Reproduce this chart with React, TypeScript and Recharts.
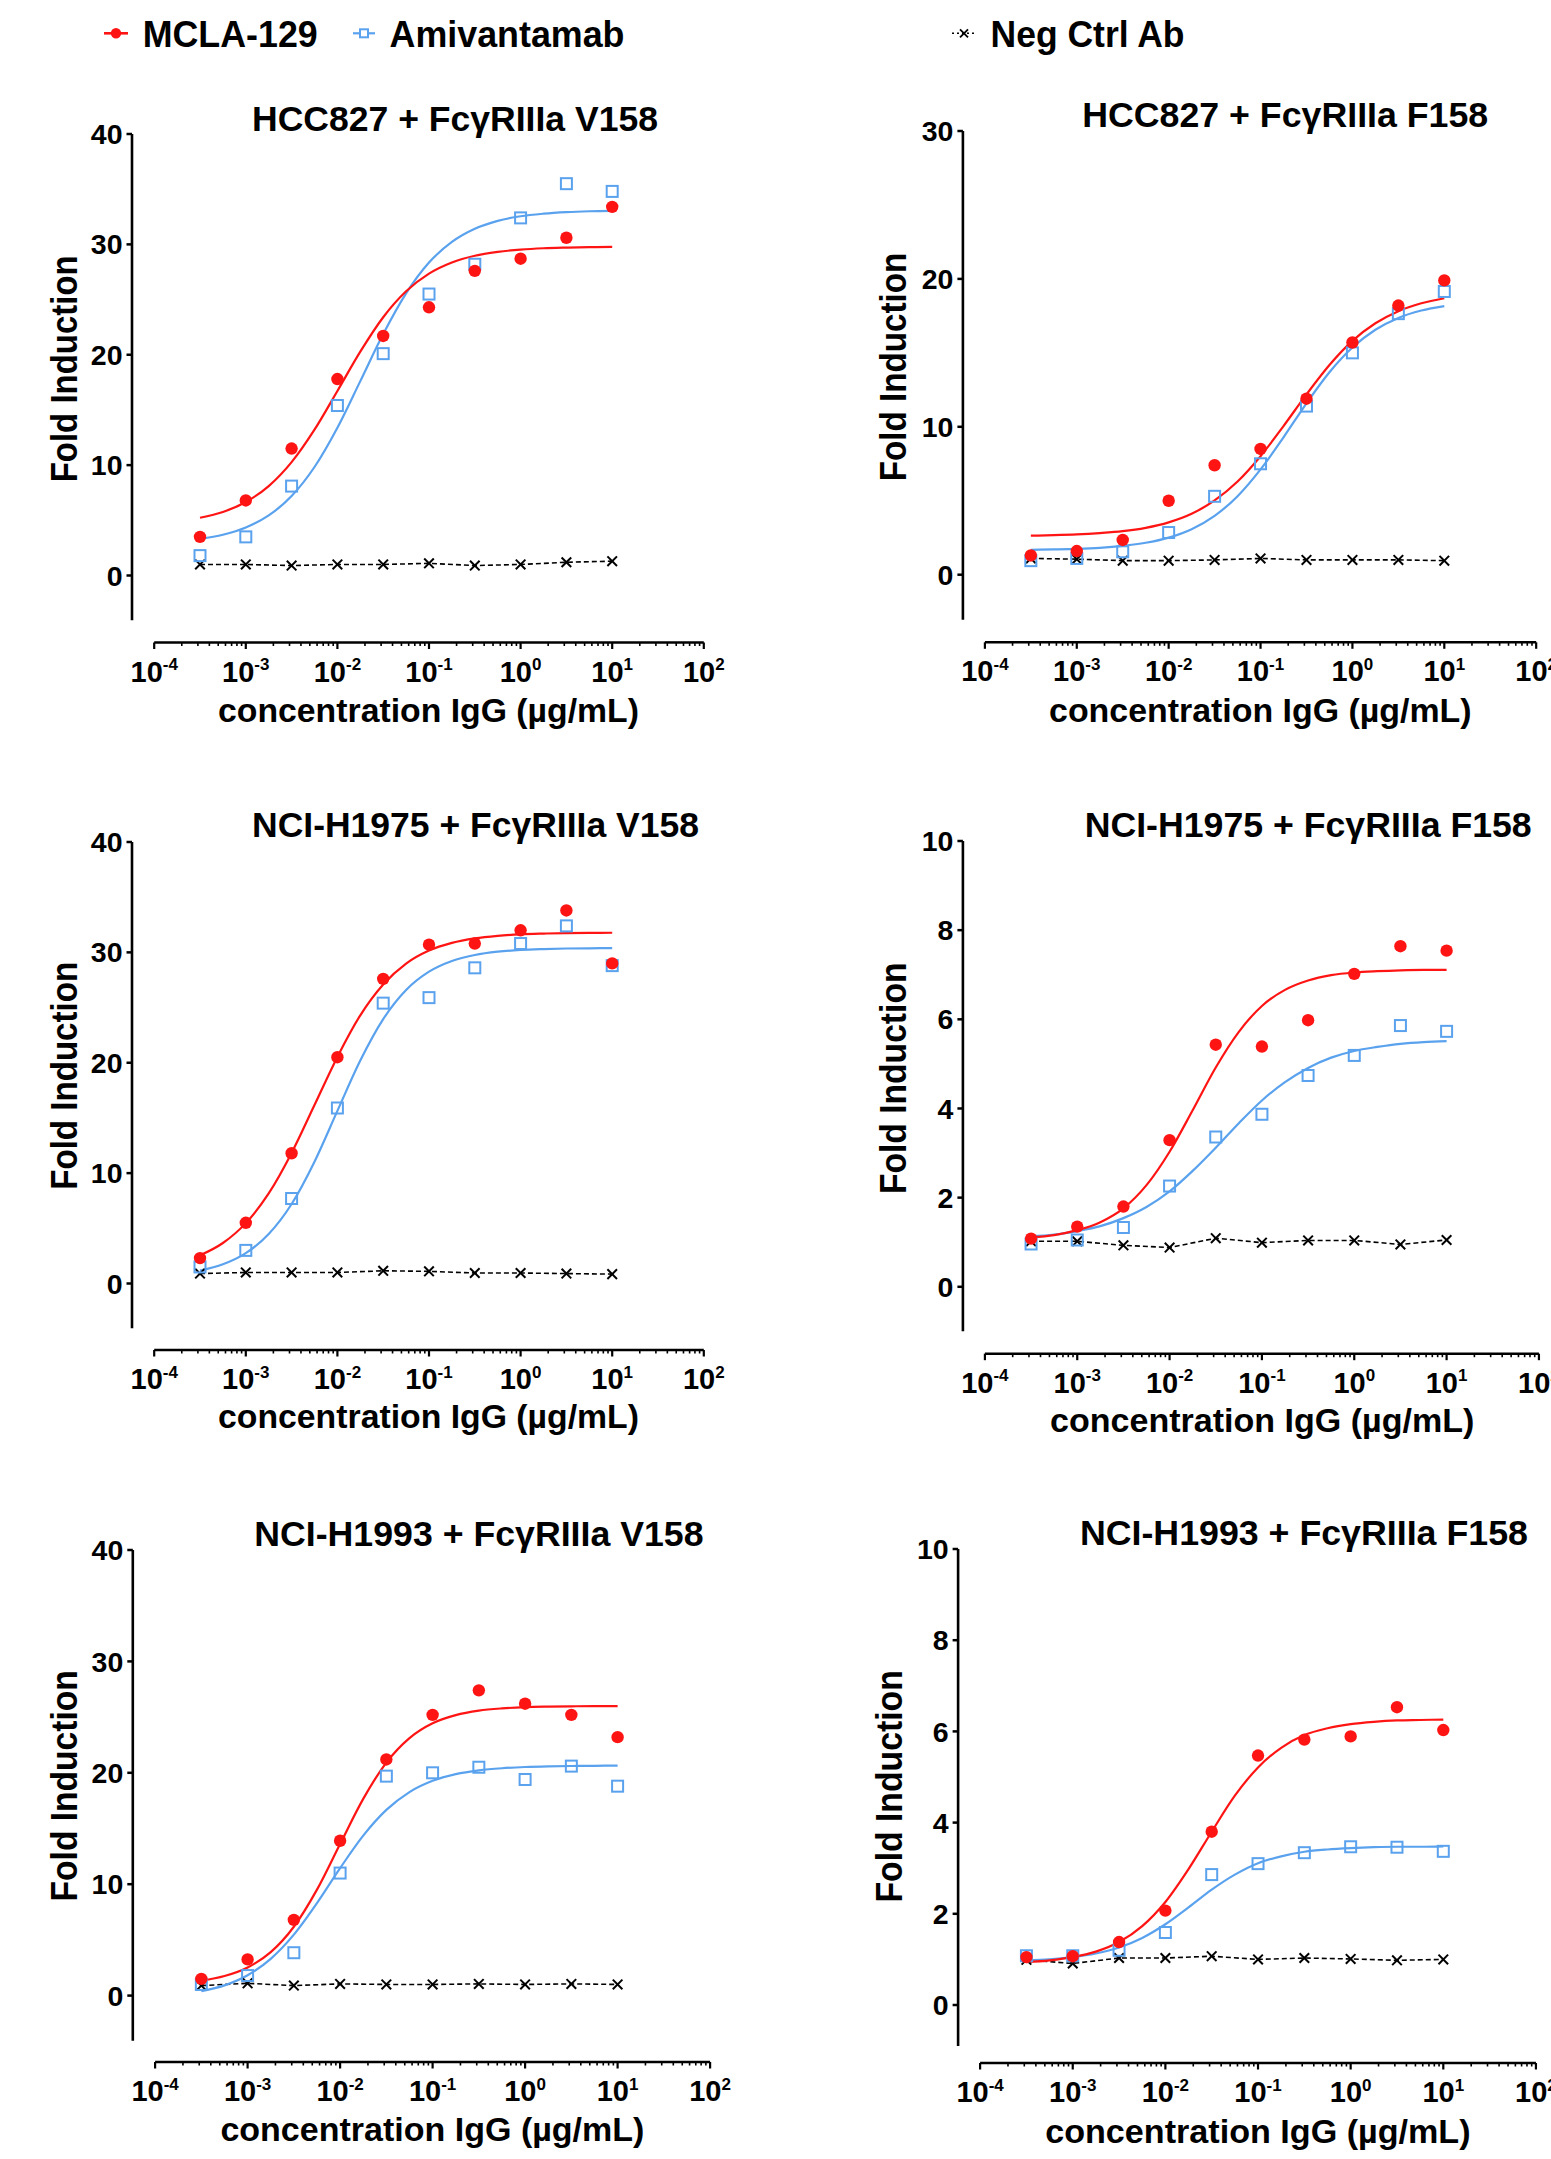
import React from "react";
import { ComposedChart, Line, Scatter, XAxis, YAxis, ReferenceLine } from "recharts";

const FONT = '"Liberation Sans", Arial, Helvetica, sans-serif';
const RED = "#ff1414";
const BLUE = "#5aa2ee";
const BLACK = "#000";

// x positions = log10(concentration IgG, µg/mL)
const doseLog = [-3.5, -3, -2.5, -2, -1.5, -1, -0.5, 0, 0.5, 1];
const fitLog = [-3.5, -3.25, -3, -2.75, -2.5, -2.25, -2, -1.75, -1.5, -1.25, -1, -0.75, -0.5, -0.25, 0, 0.25, 0.5, 0.75, 1];

// axis ticks
const xMajorTicks = [-4, -3, -2, -1, 0, 1, 2];
const xMinorSteps = [2, 3, 4, 5, 6, 7, 8, 9];
const yTicks40 = [0, 10, 20, 30, 40];
const yTicks30 = [0, 10, 20, 30];
const yTicks10 = [0, 2, 4, 6, 8, 10];

// HCC827 + FcγRIIIa V158
const hccV_mcla = [3.5, 6.8, 11.5, 17.8, 21.7, 24.3, 27.6, 28.7, 30.6, 33.4];
const hccV_ami = [1.8, 3.5, 8.1, 15.4, 20.1, 25.5, 28.2, 32.4, 35.5, 34.8];
const hccV_neg = [1.0, 1.0, 0.9, 1.0, 1.0, 1.1, 0.9, 1.0, 1.2, 1.3];
const hccV_mclaFit = [5.23, 5.76, 6.66, 8.1, 10.27, 13.21, 16.72, 20.28, 23.4, 25.75, 27.35, 28.36, 28.97, 29.32, 29.53, 29.65, 29.71, 29.75, 29.77];
const hccV_amiFit = [3.31, 3.69, 4.35, 5.44, 7.2, 9.83, 13.39, 17.61, 21.87, 25.56, 28.35, 30.22, 31.41, 32.13, 32.55, 32.78, 32.92, 33.0, 33.04];

// HCC827 + FcγRIIIa F158
const hccF_mcla = [1.3, 1.6, 2.35, 5.0, 7.4, 8.5, 11.9, 15.7, 18.2, 19.9];
const hccF_ami = [0.95, 1.1, 1.55, 2.85, 5.3, 7.5, 11.4, 15.0, 17.65, 19.15];
const hccF_neg = [1.1, 1.05, 0.95, 0.95, 1.0, 1.1, 1.0, 1.0, 1.0, 0.95];
const hccF_mclaFit = [2.64, 2.67, 2.72, 2.81, 2.94, 3.17, 3.54, 4.12, 5.02, 6.3, 8.01, 10.05, 12.19, 14.18, 15.81, 17.0, 17.82, 18.35, 18.69];
const hccF_amiFit = [1.68, 1.71, 1.75, 1.82, 1.95, 2.16, 2.51, 3.08, 3.98, 5.31, 7.12, 9.29, 11.59, 13.69, 15.36, 16.56, 17.36, 17.86, 18.16];

// NCI-H1975 + FcγRIIIa V158
const h1975V_mcla = [2.3, 5.5, 11.8, 20.5, 27.6, 30.7, 30.8, 32.0, 33.8, 29.0];
const h1975V_ami = [1.5, 3.0, 7.7, 15.9, 25.4, 25.9, 28.6, 30.8, 32.4, 28.8];
const h1975V_neg = [0.9, 1.0, 1.0, 1.0, 1.15, 1.1, 0.95, 0.95, 0.9, 0.85];
const h1975V_mclaFit = [2.55, 3.67, 5.47, 8.16, 11.83, 16.17, 20.53, 24.3, 27.09, 28.98, 30.16, 30.86, 31.27, 31.5, 31.63, 31.7, 31.75, 31.77, 31.78];
const h1975V_amiFit = [1.17, 1.74, 2.75, 4.48, 7.2, 11.04, 15.64, 20.2, 23.95, 26.59, 28.25, 29.22, 29.76, 30.06, 30.22, 30.3, 30.35, 30.37, 30.39];

// NCI-H1975 + FcγRIIIa F158
const h1975F_mcla = [1.08, 1.35, 1.8, 3.29, 5.43, 5.39, 5.98, 7.02, 7.64, 7.54];
const h1975F_ami = [0.96, 1.05, 1.33, 2.26, 3.36, 3.87, 4.74, 5.19, 5.86, 5.73];
const h1975F_neg = [1.02, 1.02, 0.93, 0.88, 1.09, 0.99, 1.04, 1.04, 0.95, 1.05];
const h1975F_mclaFit = [1.11, 1.16, 1.27, 1.45, 1.76, 2.28, 3.03, 3.96, 4.92, 5.72, 6.3, 6.66, 6.87, 6.99, 7.05, 7.08, 7.1, 7.11, 7.11];
const h1975F_amiFit = [1.13, 1.17, 1.25, 1.36, 1.54, 1.79, 2.14, 2.6, 3.12, 3.67, 4.18, 4.59, 4.91, 5.14, 5.29, 5.38, 5.45, 5.49, 5.51];

// NCI-H1993 + FcγRIIIa V158
const h1993V_mcla = [1.5, 3.25, 6.8, 13.9, 21.2, 25.2, 27.4, 26.2, 25.2, 23.2];
const h1993V_ami = [1.0, 1.8, 3.85, 11.0, 19.7, 20.0, 20.5, 19.4, 20.6, 18.8];
const h1993V_neg = [0.9, 1.1, 0.9, 1.05, 1.0, 1.0, 1.05, 1.0, 1.05, 1.0];
const h1993V_mclaFit = [1.34, 1.76, 2.53, 3.9, 6.18, 9.51, 13.61, 17.66, 20.92, 23.12, 24.45, 25.18, 25.58, 25.78, 25.89, 25.94, 25.97, 25.99, 25.99];
const h1993V_amiFit = [0.39, 0.92, 1.83, 3.3, 5.47, 8.3, 11.44, 14.36, 16.67, 18.27, 19.28, 19.88, 20.22, 20.41, 20.52, 20.58, 20.61, 20.63, 20.64];

// NCI-H1993 + FcγRIIIa F158
const h1993F_mcla = [1.05, 1.07, 1.38, 2.07, 3.8, 5.47, 5.82, 5.89, 6.53, 6.03];
const h1993F_ami = [1.08, 1.08, 1.2, 1.59, 2.86, 3.1, 3.34, 3.47, 3.46, 3.37];
const h1993F_neg = [0.99, 0.91, 1.03, 1.03, 1.07, 1.0, 1.03, 1.01, 0.98, 1.0];
const h1993F_mclaFit = [0.94, 0.98, 1.05, 1.17, 1.38, 1.73, 2.26, 2.98, 3.8, 4.59, 5.21, 5.64, 5.92, 6.07, 6.16, 6.21, 6.24, 6.25, 6.26];
const h1993F_amiFit = [0.98, 1.0, 1.05, 1.13, 1.26, 1.47, 1.77, 2.14, 2.53, 2.86, 3.11, 3.26, 3.36, 3.41, 3.44, 3.46, 3.47, 3.47, 3.48];

const xMinorTicks = xMajorTicks.slice(0, -1).flatMap((d) => xMinorSteps.map((m) => d + Math.log10(m)));
const xAllTicks = [...xMajorTicks, ...xMinorTicks];

const Y_AXIS_W = 80;

interface PanelCfg {
  title: string;
  mcla: number[];
  ami: number[];
  neg: number[];
  mclaFit: number[];
  amiFit: number[];
  yTicks: number[];
  yMax: number;
  yAxisBottom: number;
  // layout (page pixels)
  chartLeft: number;
  chartWidth: number;
  yAxisX: number;
  axisStartX: number;
  decade: number;
  topY: number;
  zeroY: number;
  xAxisY: number;
  titleX: number;
  titleY: number;
  titleW: number;
  xLabelX: number;
  xLabelY: number;
  xLabelW: number;
  yLabelX: number;
  yLabelY: number;
  yLabelW: number;
}

const panels: PanelCfg[] = [
  {
    title: "HCC827 + FcγRIIIa V158",
    mcla: hccV_mcla, ami: hccV_ami, neg: hccV_neg, mclaFit: hccV_mclaFit, amiFit: hccV_amiFit,
    yTicks: yTicks40, yMax: 40, yAxisBottom: -4.05,
    chartLeft: 0, chartWidth: 760, yAxisX: 132, axisStartX: 154.2, decade: 91.6,
    topY: 133.5, zeroY: 575, xAxisY: 642,
    titleX: 455, titleY: 130.5, titleW: 406,
    xLabelX: 428.5, xLabelY: 721.5, xLabelW: 421,
    yLabelX: 76.6, yLabelY: 368.8, yLabelW: 227,
  },
  {
    title: "HCC827 + FcγRIIIa F158",
    mcla: hccF_mcla, ami: hccF_ami, neg: hccF_neg, mclaFit: hccF_mclaFit, amiFit: hccF_amiFit,
    yTicks: yTicks30, yMax: 30, yAxisBottom: -3.05,
    chartLeft: 800, chartWidth: 751, yAxisX: 962.9, axisStartX: 984.9, decade: 91.88,
    topY: 130.7, zeroY: 574.4, xAxisY: 642,
    titleX: 1285.2, titleY: 126.8, titleW: 406,
    xLabelX: 1260.3, xLabelY: 721.5, xLabelW: 422.5,
    yLabelX: 906.3, yLabelY: 366.9, yLabelW: 228.6,
  },
  {
    title: "NCI-H1975 + FcγRIIIa V158",
    mcla: h1975V_mcla, ami: h1975V_ami, neg: h1975V_neg, mclaFit: h1975V_mclaFit, amiFit: h1975V_amiFit,
    yTicks: yTicks40, yMax: 40, yAxisBottom: -4.05,
    chartLeft: 0, chartWidth: 760, yAxisX: 132, axisStartX: 154.2, decade: 91.6,
    topY: 841.8, zeroY: 1283.3, xAxisY: 1349.8,
    titleX: 475.5, titleY: 837.3, titleW: 447,
    xLabelX: 428.5, xLabelY: 1428, xLabelW: 421,
    yLabelX: 76.6, yLabelY: 1075.8, yLabelW: 228,
  },
  {
    title: "NCI-H1975 + FcγRIIIa F158",
    mcla: h1975F_mcla, ami: h1975F_ami, neg: h1975F_neg, mclaFit: h1975F_mclaFit, amiFit: h1975F_amiFit,
    yTicks: yTicks10, yMax: 10, yAxisBottom: -1,
    chartLeft: 800, chartWidth: 751, yAxisX: 962.9, axisStartX: 984.9, decade: 92.34,
    topY: 841.3, zeroY: 1287.1, xAxisY: 1354,
    titleX: 1308.2, titleY: 837.3, titleW: 447,
    xLabelX: 1262.2, xLabelY: 1432, xLabelW: 424.4,
    yLabelX: 906.3, yLabelY: 1078.3, yLabelW: 231.5,
  },
  {
    title: "NCI-H1993 + FcγRIIIa V158",
    mcla: h1993V_mcla, ami: h1993V_ami, neg: h1993V_neg, mclaFit: h1993V_mclaFit, amiFit: h1993V_amiFit,
    yTicks: yTicks40, yMax: 40, yAxisBottom: -4.05,
    chartLeft: 0, chartWidth: 760, yAxisX: 132.8, axisStartX: 155.1, decade: 92.5,
    topY: 1550.4, zeroY: 1996, xAxisY: 2062.4,
    titleX: 478.9, titleY: 1546.3, titleW: 449.3,
    xLabelX: 432.4, xLabelY: 2141.2, xLabelW: 424,
    yLabelX: 76.6, yLabelY: 1785.8, yLabelW: 231.2,
  },
  {
    title: "NCI-H1993 + FcγRIIIa F158",
    mcla: h1993F_mcla, ami: h1993F_ami, neg: h1993F_neg, mclaFit: h1993F_mclaFit, amiFit: h1993F_amiFit,
    yTicks: yTicks10, yMax: 10, yAxisBottom: -0.9,
    chartLeft: 800, chartWidth: 751, yAxisX: 958.1, axisStartX: 980.1, decade: 92.64,
    topY: 1549.2, zeroY: 2005.2, xAxisY: 2063.2,
    titleX: 1303.9, titleY: 1545.2, titleW: 448,
    xLabelX: 1257.9, xLabelY: 2143.2, xLabelW: 425.4,
    yLabelX: 901.5, yLabelY: 1786.4, yLabelW: 232.4,
  },
];

const toPts = (xs: number[], ys: number[]) => xs.map((x, i) => ({ x, y: ys[i] }));

// markers
const RedDot = (p: any) => <circle cx={p.cx} cy={p.cy} r={6.2} fill={RED} />;
const BlueSquare = (p: any) => (
  <rect x={p.cx - 5.5} y={p.cy - 5.5} width={11} height={11} fill="none" stroke={BLUE} strokeWidth={2} />
);
const Cross = (p: any) => {
  const { cx, cy, index } = p;
  if (cx == null || cy == null) return <g key={index} />;
  const s = 4.8;
  return (
    <g key={index}>
      <line x1={cx - s} y1={cy - s} x2={cx + s} y2={cy + s} stroke={BLACK} strokeWidth={2} />
      <line x1={cx - s} y1={cy + s} x2={cx + s} y2={cy - s} stroke={BLACK} strokeWidth={2} />
    </g>
  );
};

// x axis tick: major ticks get 10^n labels, minor ticks are short
const XTick = (props: any) => {
  const { x, y, payload } = props;
  const v = payload.value;
  const major = Math.abs(v - Math.round(v)) < 1e-6;
  return (
    <g>
      <line x1={x} x2={x} y1={y} y2={y + (major ? 6.5 : 3.5)} stroke={BLACK} strokeWidth={major ? 2.2 : 1.6} />
      {major && (
        <text x={x} y={y + 39} textAnchor="middle" fontFamily={FONT} fontWeight={700} fontSize={29} fill={BLACK}>
          10
          <tspan dy={-11.5} fontSize={17}>
            {Math.round(v)}
          </tspan>
        </text>
      )}
    </g>
  );
};

const Panel = ({ cfg }: { cfg: PanelCfg }) => {
  const pxPerUnit = (cfg.zeroY - cfg.topY) / cfg.yMax;
  const yMin = -(cfg.xAxisY - cfg.zeroY) / pxPerUnit;
  const xMin = -4 - (cfg.axisStartX - cfg.yAxisX) / cfg.decade;
  const plotRight = cfg.axisStartX + 6 * cfg.decade;
  const chartTop = cfg.topY - 20;
  const height = cfg.xAxisY - chartTop + 65;
  const margin = {
    top: 20,
    right: cfg.chartLeft + cfg.chartWidth - plotRight,
    bottom: 5,
    left: cfg.yAxisX - cfg.chartLeft - Y_AXIS_W,
  };

  return (
    <div style={{ position: "absolute", left: cfg.chartLeft, top: chartTop }}>
      <ComposedChart width={cfg.chartWidth} height={height} margin={margin}>
        <XAxis
          type="number"
          dataKey="x"
          domain={[xMin, 2]}
          allowDataOverflow
          ticks={xAllTicks}
          interval={0}
          tick={(p: any) => <XTick {...p} />}
          tickLine={false}
          axisLine={false}
          tickSize={0}
          tickMargin={0}
          height={60}
        />
        <YAxis
          type="number"
          dataKey="y"
          domain={[yMin, cfg.yMax]}
          allowDataOverflow
          ticks={cfg.yTicks}
          interval={0}
          axisLine={false}
          tickLine={{ stroke: BLACK, strokeWidth: 2.5 }}
          tickSize={5.5}
          tickMargin={4}
          width={Y_AXIS_W}
          tick={{ fill: BLACK, fontSize: 28.5, fontWeight: 700, fontFamily: FONT }}
        />
        {/* offset axes, Prism style */}
        <ReferenceLine
          segment={[{ x: xMin, y: cfg.yAxisBottom }, { x: xMin, y: cfg.yMax }]}
          stroke={BLACK}
          strokeWidth={2.6}
          ifOverflow="visible"
        />
        <ReferenceLine
          segment={[{ x: -4, y: yMin }, { x: 2, y: yMin }]}
          stroke={BLACK}
          strokeWidth={2.6}
          ifOverflow="visible"
        />
        <Line
          data={toPts(doseLog, cfg.neg)}
          dataKey="y"
          type="linear"
          stroke={BLACK}
          strokeWidth={1.6}
          strokeDasharray="5 3"
          dot={Cross}
          activeDot={false}
          isAnimationActive={false}
        />
        <Line
          data={toPts(fitLog, cfg.amiFit)}
          dataKey="y"
          type="monotone"
          stroke={BLUE}
          strokeWidth={2.2}
          dot={false}
          activeDot={false}
          isAnimationActive={false}
        />
        <Line
          data={toPts(fitLog, cfg.mclaFit)}
          dataKey="y"
          type="monotone"
          stroke={RED}
          strokeWidth={2.2}
          dot={false}
          activeDot={false}
          isAnimationActive={false}
        />
        <Scatter data={toPts(doseLog, cfg.ami)} dataKey="y" shape={BlueSquare} isAnimationActive={false} />
        <Scatter data={toPts(doseLog, cfg.mcla)} dataKey="y" shape={RedDot} isAnimationActive={false} />
      </ComposedChart>
    </div>
  );
};

// titles, axis titles and the shared legend
const Overlay = () => {
  const txt = { fontFamily: FONT, fontWeight: 700, fill: BLACK } as const;
  return (
    <svg
      width={1551}
      height={2159}
      style={{ position: "absolute", left: 0, top: 0, pointerEvents: "none" }}
    >
      {/* legend */}
      <line x1={104} x2={128} y1={33.3} y2={33.3} stroke={RED} strokeWidth={2.6} />
      <circle cx={116} cy={33.3} r={5.2} fill={RED} />
      <text x={142.7} y={46.7} fontSize={36} textLength={175} lengthAdjust="spacingAndGlyphs" {...txt}>
        MCLA-129
      </text>
      <line x1={353} x2={375} y1={33.3} y2={33.3} stroke={BLUE} strokeWidth={2.2} />
      <rect x={360} y={29.3} width={8} height={8} fill="#fff" stroke={BLUE} strokeWidth={2} />
      <text x={389.5} y={46.7} fontSize={36} textLength={235} lengthAdjust="spacingAndGlyphs" {...txt}>
        Amivantamab
      </text>
      <line x1={952} x2={976} y1={33.3} y2={33.3} stroke={BLACK} strokeWidth={1.5} strokeDasharray="2 3" />
      <line x1={960} y1={29.3} x2={968} y2={37.3} stroke={BLACK} strokeWidth={1.8} />
      <line x1={960} y1={37.3} x2={968} y2={29.3} stroke={BLACK} strokeWidth={1.8} />
      <text x={990.5} y={46.7} fontSize={36} textLength={194} lengthAdjust="spacingAndGlyphs" {...txt}>
        Neg Ctrl Ab
      </text>

      {panels.map((p) => (
        <g key={p.title}>
          <text
            x={p.titleX}
            y={p.titleY}
            textAnchor="middle"
            fontSize={35.5}
            textLength={p.titleW}
            lengthAdjust="spacingAndGlyphs"
            {...txt}
          >
            {p.title}
          </text>
          <text
            x={p.xLabelX}
            y={p.xLabelY}
            textAnchor="middle"
            fontSize={34}
            textLength={p.xLabelW}
            lengthAdjust="spacingAndGlyphs"
            {...txt}
          >
            concentration IgG (µg/mL)
          </text>
          <text
            transform={`translate(${p.yLabelX},${p.yLabelY}) rotate(-90)`}
            textAnchor="middle"
            fontSize={36}
            textLength={p.yLabelW}
            lengthAdjust="spacingAndGlyphs"
            {...txt}
          >
            Fold Induction
          </text>
        </g>
      ))}
    </svg>
  );
};

export default function App() {
  return (
    <div
      style={{
        position: "absolute",
        left: 0,
        top: 0,
        width: 1551,
        height: 2159,
        overflow: "hidden",
        background: "#fff",
      }}
    >
      {panels.map((p) => (
        <Panel key={p.title} cfg={p} />
      ))}
      <Overlay />
    </div>
  );
}
